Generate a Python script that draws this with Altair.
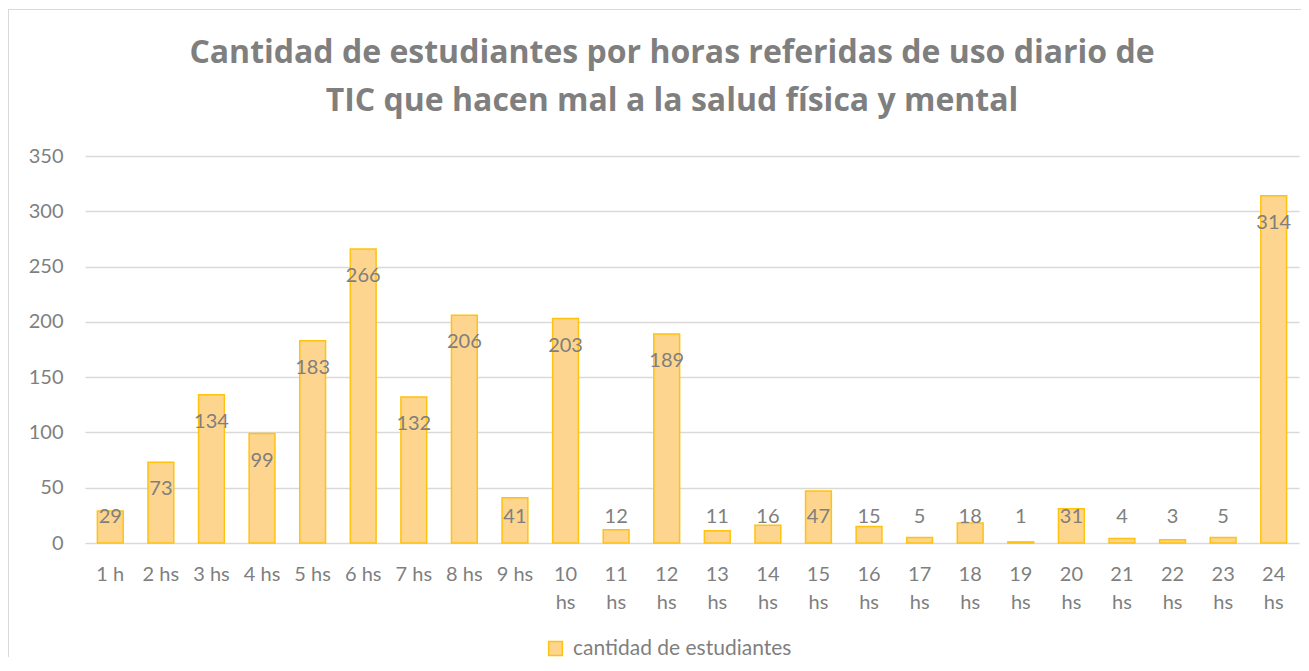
import altair as alt
import pandas as pd

horas = ["1 h", "2 hs", "3 hs", "4 hs", "5 hs", "6 hs", "7 hs", "8 hs", "9 hs", "10 hs",
         "11 hs", "12 hs", "13 hs", "14 hs", "15 hs", "16 hs", "17 hs", "18 hs", "19 hs",
         "20 hs", "21 hs", "22 hs", "23 hs", "24 hs"]
cantidad = [29, 73, 134, 99, 183, 266, 132, 206, 41, 203, 12, 189, 11, 16, 47, 15, 5, 18,
            1, 31, 4, 3, 5, 314]
serie = "cantidad de estudiantes"
titulo = ["Cantidad de estudiantes por horas referidas de uso diario de",
          "TIC que hacen mal a la salud física y mental"]
y_ticks = [0, 50, 100, 150, 200, 250, 300, 350]

df = pd.DataFrame({"horas": horas, "cantidad": cantidad, "serie": [serie] * len(horas)})

W, H = 1214, 387
PAD_L, PAD_T, PAD_B, PAD_R = 77, 148, 114, 2
FONT = "Lato"
GRAY = "#7F7F7F"
FILL = "#FDD58E"
STROKE = "#FFC20E"

yscale = alt.Scale(domain=[0, 350])

x_enc = alt.X(
    "horas:N", sort=horas,
    scale=alt.Scale(paddingInner=0.49, paddingOuter=0.245),
    axis=alt.Axis(
        title=None, labelAngle=0, domain=False, ticks=False, tickSize=0,
        labelExpr="length(datum.label) > 4 ? split(datum.label, ' ') : datum.label",
        labelFont=FONT, labelFontSize=20, labelColor=GRAY, labelPadding=21,
        labelLineHeight=28, labelBaseline="top",
    ),
)

bars = alt.Chart(df).mark_bar(stroke=STROKE, strokeWidth=1.5).encode(
    x=x_enc,
    y=alt.Y("cantidad:Q", scale=yscale,
            axis=alt.Axis(title=None, values=y_ticks, domain=False, ticks=False, tickSize=0,
                          gridColor="#D9D9D9", gridWidth=1.3,
                          labelFont=FONT, labelFontSize=20, labelColor=GRAY,
                          labelPadding=22)),
    color=alt.Color("serie:N", scale=alt.Scale(domain=[serie], range=[FILL]),
                    legend=alt.Legend(title=None, orient="none", legendX=460, legendY=482,
                                      symbolType="square", symbolSize=190,
                                      symbolStrokeColor=STROKE, symbolStrokeWidth=1.5,
                                      labelFont=FONT, labelFontSize=21, labelColor=GRAY,
                                      labelOffset=7, labelLimit=400)),
)

labels = alt.Chart(df).transform_calculate(
    pos="max(datum.cantidad - 24.4, 23.5)"
).mark_text(baseline="middle", align="center", font=FONT, fontSize=20, color=GRAY).encode(
    x=alt.X("horas:N", sort=horas),
    y=alt.Y("pos:Q", scale=yscale),
    text=alt.Text("cantidad:Q"),
)

frame = alt.Data(values=[{"k": 1}])
left_border = alt.Chart(frame).mark_rule(color="#D9D9D9", strokeWidth=1).encode(
    x=alt.value(-PAD_L + 0.5), y=alt.value(-PAD_T + 1), y2=alt.value(H + PAD_B)
)
top_border = alt.Chart(frame).mark_rule(color="#D9D9D9", strokeWidth=1).encode(
    x=alt.value(-PAD_L), x2=alt.value(W + PAD_R), y=alt.value(-PAD_T + 1.5)
)

chart = alt.layer(bars, labels, left_border, top_border).properties(
    width=W, height=H,
    title=alt.TitleParams(text=titulo, font="Open Sans", fontSize=32, fontWeight="bold",
                          color=GRAY, anchor="middle", lineHeight=48, offset=-109, dx=-20),
    autosize=alt.AutoSizeParams(type="none"),
    padding={"left": PAD_L, "top": PAD_T, "right": PAD_R, "bottom": PAD_B},
).configure_view(stroke=None)

chart.save("out.html", embed_options={"renderer": "svg", "actions": False})
